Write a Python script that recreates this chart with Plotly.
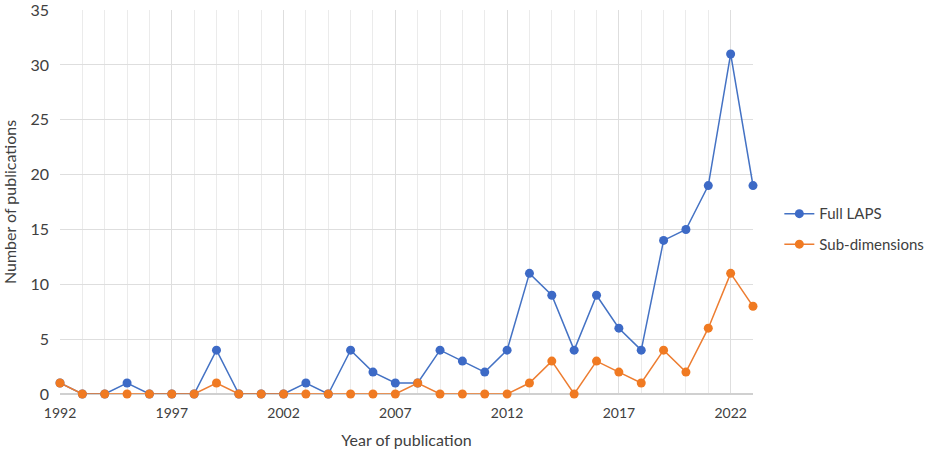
import plotly.graph_objects as go

years = list(range(1992, 2024))
full_laps = [1, 0, 0, 1, 0, 0, 0, 4, 0, 0, 0, 1, 0, 4, 2, 1, 1, 4, 3, 2, 4, 11, 9, 4, 9, 6, 4, 14, 15, 19, 31, 19]
sub_dims = [1, 0, 0, 0, 0, 0, 0, 1, 0, 0, 0, 0, 0, 0, 0, 0, 1, 0, 0, 0, 0, 1, 3, 0, 3, 2, 1, 4, 2, 6, 11, 8]
x_ticks = [1992, 1997, 2002, 2007, 2012, 2017, 2022]
y_ticks = [0, 5, 10, 15, 20, 25, 30, 35]

FONT = "Lato"
fig = go.Figure()
fig.add_trace(go.Scatter(x=years, y=full_laps, name="Full LAPS", mode="lines+markers",
                         legendgroup="a",
                         line=dict(color="#4472C4", width=1.5),
                         marker=dict(color="#3D6AC6", size=9), cliponaxis=False))
fig.add_trace(go.Scatter(x=years, y=sub_dims, name="Sub-dimensions", mode="lines+markers",
                         legendgroup="b",
                         line=dict(color="#ED7D31", width=1.5),
                         marker=dict(color="#F07A22", size=9), cliponaxis=False))

fig.update_layout(
    width=935, height=451,
    margin=dict(l=60, r=182, t=10, b=57, autoexpand=False),
    paper_bgcolor="white", plot_bgcolor="white",
    font=dict(family=FONT, color="#595959", size=14),
    legend=dict(x=1.038, y=0.43, yanchor="middle", xanchor="left", traceorder="grouped",
                font=dict(size=15, color="#404040"), itemwidth=30, tracegroupgap=8),
    xaxis=dict(range=[1992, 2023], tickvals=x_ticks, ticktext=[str(t) for t in x_ticks],
               showgrid=True, gridcolor="#DEDEDE", gridwidth=1,
               minor=dict(dtick=1, tick0=1992, showgrid=True, gridcolor="#EBEBEB"),
               zeroline=False, showline=False, ticks="", automargin=False,
               ticklabelstandoff=9, ticklabeloverflow="allow",
               title=dict(text="Year of publication", font=dict(size=16, color="#404040"), standoff=14),
               tickfont=dict(size=14, color="#404040")),
    yaxis=dict(range=[0, 35.01], tickvals=y_ticks, showgrid=True, gridcolor="#DEDEDE",
               zeroline=True, zerolinecolor="#D0D0D0", showline=False, ticks="", automargin=False,
               ticklabelstandoff=10, ticklabeloverflow="allow",
               title=dict(text="Number of publications", font=dict(size=16, color="#404040"), standoff=10),
               tickfont=dict(size=16, color="#404040")),
)
fig.write_html("out.html", config={"displayModeBar": False},
               post_script="document.body.style.margin='0';document.body.style.overflow='hidden';")
